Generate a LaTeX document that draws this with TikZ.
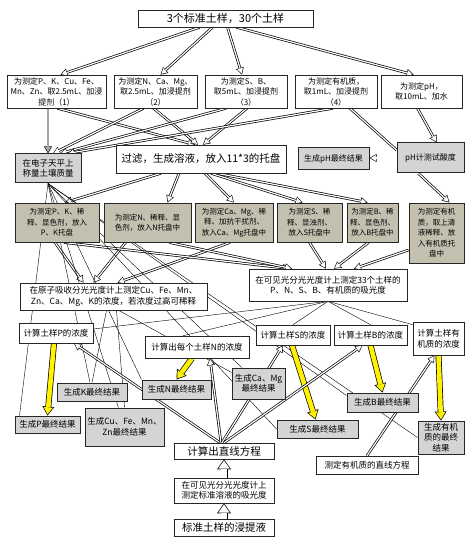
\documentclass[tikz,border=0pt]{standalone}
\usepackage{fontspec}
\setmainfont{Noto Sans CJK SC}
\usetikzlibrary{arrows.meta,backgrounds}
\definecolor{boxgrey}{RGB}{212,212,212}
\definecolor{boxtan}{RGB}{196,192,176}

\begin{document}
\begin{tikzpicture}[x=1pt,y=-1pt,
    dims/.style 2 args={minimum width=#1pt,minimum height=#2pt},
    plainbox/.style={draw=black!85,fill=white,line width=0.6pt,align=center,
                     inner sep=1pt,font=\fontsize{8}{10.5}\selectfont},
    greybox/.style={plainbox,fill=boxgrey,line width=1pt,
                    font=\fontsize{8.5}{10.5}\selectfont},
    tanbox/.style={plainbox,fill=boxtan,line width=1pt,
                   font=\fontsize{7.5}{10.5}\selectfont},
    bigtext/.style={font=\fontsize{10.5}{13}\selectfont},
    midtext/.style={font=\fontsize{8.5}{10.5}\selectfont},
    link/.style={line width=0.4pt},
    hollow/.style={line width=2.6pt,-{Triangle[length=7pt,width=8pt,line width=0pt]},
                   postaction={draw=#1,line width=1.2pt,shorten >=1.2pt,
                               -{Triangle[length=5.2pt,width=5.9pt,line width=0pt]}}},
    hollow/.default=white,
    hollowline/.style={line width=2.6pt,postaction={draw=white,line width=1.2pt}},
    yellowarrow/.style={line width=6pt,-{Triangle[length=9pt,width=12pt,line width=0pt]},
                        postaction={draw=yellow,line width=4.6pt,shorten >=1.26pt,
                                    -{Triangle[length=7pt,width=9.4pt,line width=0pt]}}},
    blockarrow/.style={line width=7pt,-{Triangle[length=10pt,width=14pt,line width=0pt]},
                       postaction={draw=white,line width=5.6pt,shorten >=1.22pt,
                                   -{Triangle[length=8pt,width=11.3pt,line width=0pt]}}}]
  \useasboundingbox (0,0) rectangle (465,537);

  \node[plainbox,font=\fontsize{11}{13}\selectfont,dims={175}{17}] (top) at (225.5,18.5) {3个标准土样，30个土样};

  % extraction
  \node[plainbox,dims={99}{33}] (ext1) at (56.5,91.5) {为测定P、K、Cu、Fe、\\Mn、Zn、取2.5mL、加浸\\提剂（1）};
  \node[plainbox,dims={83}{33}] (ext2) at (155.5,91.5) {为测定N、Ca、Mg、\\取2.5mL、加浸提剂\\（2）};
  \node[plainbox,dims={82}{33}] (ext3) at (246,91.5) {为测定S、B、\\取5mL、加浸提剂\\（3）};
  \node[plainbox,dims={82}{33}] (ext4) at (336,91.5) {为测定有机质，\\取1mL、加浸提剂\\（4）};
  \node[plainbox,dims={81}{33}] (ext5) at (421.5,91.5) {为测定pH，\\取10mL、加水};

  \node[greybox,dims={66}{29}] (weigh) at (48,168.5) {在电子天平上\\称量土壤质量};
  \node[plainbox,bigtext,dims={170}{28}] (filter) at (201,159) {过滤，生成溶液，放入11*3的托盘};
  \node[greybox,font=\fontsize{8}{10}\selectfont,dims={71}{22}] (phres) at (333.5,159) {生成pH最终结果};
  \node[greybox,font=\fontsize{8}{10}\selectfont,dims={67}{30}] (phmeter) at (430.5,158) {pH计测试酸度};

  % trays
  \node[tanbox,dims={84}{39}] (trayPK) at (57,222.5) {为测定P、K、稀\\释、显色剂，放入\\P、K托盘};
  \node[tanbox,dims={87}{39}] (trayN) at (147.5,222.5) {为测定N、稀释、显\\色剂，放入N托盘中};
  \node[tanbox,dims={78}{39}] (trayCa) at (234,222.5) {为测定Ca、Mg、稀\\释、加抗干扰剂、\\放入Ca、Mg托盘中};
  \node[tanbox,dims={65}{39}] (trayS) at (309.5,222.5) {为测定S、稀\\释、显浊剂、\\放入S托盘中};
  \node[tanbox,dims={51}{39}] (trayB) at (372.5,222.5) {为测定B、稀\\释、显色剂、\\放入B托盘中};
  \node[tanbox,dims={55}{60}] (trayOM) at (436.5,233) {为测定有机\\质，取上清\\液稀释、放\\入有机质托\\盘中};

  \node[plainbox,midtext,dims={187}{27}] (aas) at (113.5,296.5) {在原子吸收分光光度计上测定Cu、Fe、Mn、\\Zn、Ca、Mg、K的浓度，若浓度过高可稀释};
  \node[plainbox,midtext,dims={158}{32}] (vis) at (328,285) {在可见光分光光度计上测定33个土样的\\P、N、S、B、有机质的吸光度};

  % concentrations
  \node[plainbox,midtext,dims={74}{20}] (calcP) at (56,333) {计算土样P的浓度};
  \node[plainbox,midtext,dims={104}{22}] (calcN) at (197,347) {计算出每个土样N的浓度};
  \node[plainbox,midtext,dims={74}{20}] (calcS) at (293,335) {计算土样S的浓度};
  \node[plainbox,midtext,dims={73}{20}] (calcB) at (370.5,335) {计算土样B的浓度};
  \node[plainbox,midtext,dims={51}{33}] (calcOM) at (438.5,338.5) {计算土样有\\机质的浓度};

  % results
  \node[greybox,dims={70}{18}] (resK) at (92,392) {生成K最终结果};
  \node[greybox,dims={69}{19}] (resN) at (176.5,389.5) {生成N最终结果};
  \node[greybox,dims={53}{31}] (resCaMg) at (258.5,383.5) {生成Ca、Mg\\最终结果};
  \node[greybox,dims={71}{19}] (resB) at (382.5,402.5) {生成B最终结果};
  \node[greybox,dims={65}{17}] (resP) at (47.5,424.5) {生成P最终结果};
  \node[greybox,dims={79}{38}] (resCu) at (124.5,427) {生成Cu、Fe、Mn、\\Zn最终结果};
  \node[greybox,dims={81}{18}] (resS) at (317.5,429) {生成S最终结果};
  \node[greybox,dims={46}{33}] (resOM) at (441,437.5) {生成有机\\质的最终\\结果};

  \node[plainbox,bigtext,dims={100}{16}] (lineeq) at (224,451) {计算出直线方程};
  \node[plainbox,midtext,dims={102}{18}] (omeq) at (367,465) {测定有机质的直线方程};
  \node[plainbox,midtext,dims={100}{25}] (stdabs) at (224,490.5) {在可见光分光光度计上\\测定标准溶液的吸光度};
  \node[plainbox,bigtext,dims={100}{17}] (extract) at (224,527.5) {标准土样的浸提液};

  \begin{pgfonlayer}{background}
    \draw[hollow] ([xshift=-26pt]top.south) -- ([xshift=4pt]ext1.north);
    \draw[hollow] ([xshift=-13pt]top.south) -- ([xshift=5pt]ext2.north);
    \draw[hollow] ([xshift=2pt]top.south) -- ([xshift=-4pt]ext3.north);
    \draw[hollow] ([xshift=11pt]top.south) -- ([xshift=-8pt]ext5.north);

    \draw[hollow=gray!70] (weigh.north |- ext1.south) -- (weigh.north);
    \draw[hollow] ([xshift=1pt]ext1.south) -- ([xshift=-6pt]filter.north);
    \draw[hollow] ([xshift=-12pt]ext2.south) -- ([xshift=5pt]weigh.north);
    \draw[hollow] ([xshift=-2pt]ext2.south) -- ([xshift=-3pt]filter.north);
    \draw[hollow] ([xshift=-20pt]ext3.south) -- ([xshift=12pt]weigh.north);
    \draw[hollow] ([xshift=1pt]ext3.south) -- ([xshift=2pt]filter.north);
    \draw[hollow] ([xshift=-3pt]ext4.south) -- ([xshift=-14pt]weigh.north east);
    \draw[hollowline] ([xshift=14pt]ext4.south) -- ([yshift=8pt]phmeter.west);
    \draw[hollow] ([xshift=-4pt]ext5.south) -- ([xshift=6pt]phmeter.north);
    \draw[hollow] (phmeter.west) -- (phmeter.west -| phres.east);
    \draw[hollow] ([xshift=-12pt]phmeter.south) -- ([xshift=13pt]trayOM.north);

    \draw[hollow] ([xshift=-40pt]filter.south) -- ([xshift=8pt]trayPK.north);
    \draw[hollow] ([xshift=-22pt]filter.south) -- ([xshift=20pt]trayN.north);
    \draw[hollow] ([xshift=4pt]filter.south) -- (trayCa.north);
    \draw[hollow] ([xshift=10pt]filter.south) -- ([xshift=-7pt]trayS.north);
    \draw[hollow] ([xshift=16pt]filter.south) -- ([xshift=-5pt]trayB.north);

    \draw[hollow] ([xshift=-2pt]trayPK.south) -- ([xshift=-30pt]aas.north);
    \draw[hollow] ([xshift=-22pt]trayN.south) -- ([xshift=-20pt]aas.north);
    \draw[hollow] ([xshift=-4pt]trayCa.south) -- ([xshift=4pt]aas.north);
    \draw[hollow] ([xshift=7pt]trayPK.south) -- ([xshift=-38pt]vis.north);
    \draw[hollow] ([xshift=22pt]trayN.south) -- ([xshift=-36pt]vis.north);
    \draw[hollow] (trayS.south) -- ([xshift=-2pt]vis.north);
    \draw[hollow] ([xshift=-4pt]trayB.south) -- ([xshift=6pt]vis.north);
    \draw[hollow] ([yshift=-17pt]trayOM.west) -- ([xshift=26pt]vis.north);

    % soil mass goes into every result
    \draw[link] (weigh.south) -- ([xshift=5pt]resP.north west);
    \draw[link] (weigh.south) -- (resK);
    \draw[link] (weigh.south) -- (resCu);
    \draw[link] (weigh.south) -- (resN.north west);
    \draw[link] (weigh.south) -- (resCaMg);
    \draw[link] (weigh.south) -- (resS.west);
    \draw[link] (weigh.south) -- ([yshift=-3pt]resB.north west);
    \draw[link] (weigh.south) -- (resOM.west);

    \draw[link] ([xshift=-7pt]aas.south) -- (resK.north);
    \draw[link] ([xshift=3pt]aas.south) -- (resCu.north);
    \draw[link] ([xshift=5pt]aas.south) -- ([yshift=11pt]resCaMg.west);

    \draw[link] (vis.south) -- ([yshift=4pt]calcP.east);
    \draw[link] (vis.south) -- ([xshift=-14pt]calcN.north);
    \draw[link] (vis.south) -- (calcS.north);
    \draw[link] (vis.south) -- (calcB.north);
    \draw[link] (vis.south) -- ([yshift=-3pt]calcOM.north west);

    \draw[yellowarrow] ([xshift=-2pt]calcP.south) -- (resP.north);
    \draw[yellowarrow] ([xshift=-5pt]calcN.south) -- (resN.north);
    \draw[yellowarrow] ([xshift=-1pt]calcS.south) -- ([xshift=-2pt]resS.north);
    \draw[yellowarrow] (calcB.south) -- (resB.north);
    \draw[yellowarrow] (calcOM.south) -- (resOM.north);

    \draw[hollow] ([xshift=-4pt]lineeq.north) -- ([xshift=18pt]calcP.south);
    \draw[hollow] ([xshift=-3pt]lineeq.north) -- ([xshift=13pt]calcN.south);
    \draw[hollow] ([xshift=-2pt]lineeq.north) -- ([xshift=-10pt]calcS.south);
    \draw[hollow] (lineeq.north) -- ([xshift=-8pt]calcB.south);
    \draw[hollow] (omeq.north) -- ([xshift=-4pt]calcOM.south);
    \draw[blockarrow] (stdabs.north) -- (lineeq.south);
    \draw[blockarrow] (extract.north) -- (stdabs.south);
  \end{pgfonlayer}
\end{tikzpicture}
\end{document}
